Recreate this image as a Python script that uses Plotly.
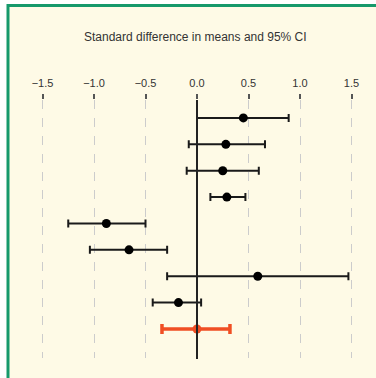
import plotly.graph_objects as go

studies = [1, 2, 3, 4, 5, 6, 7, 8]
effect = [0.45, 0.28, 0.25, 0.29, -0.88, -0.66, 0.59, -0.18]
lower = [0.00, -0.08, -0.10, 0.13, -1.25, -1.04, -0.29, -0.43]
upper = [0.89, 0.66, 0.60, 0.47, -0.50, -0.29, 1.47, 0.04]

summary_row = [9]
summary_effect = [0.00]
summary_lower = [-0.34]
summary_upper = [0.32]

tick_vals = [-1.5, -1.0, -0.5, 0.0, 0.5, 1.0, 1.5]
tick_text = ["\u22121.5", "\u22121.0", "\u22120.5", "0.0", "0.5", "1.0", "1.5"]
title_text = "Standard difference in means and 95% CI"

W, H = 376, 378
ml, mr, mt, mb = 30, 11, 100, 20
pw = W - ml - mr
ph = H - mt - mb

def px_to_paper_x(px):
    return (px - ml) / pw

def px_to_paper_y(py):
    return (H - mb - py) / ph

fig = go.Figure()

fig.add_trace(go.Scatter(
    x=effect, y=studies, mode="markers",
    marker=dict(color="black", size=9, symbol="circle"),
    error_x=dict(type="data", symmetric=False,
                 array=[u - e for u, e in zip(upper, effect)],
                 arrayminus=[e - l for e, l in zip(effect, lower)],
                 color="#1a1a1a", thickness=2, width=4),
    showlegend=False,
))

fig.add_trace(go.Scatter(
    x=summary_effect, y=summary_row, mode="markers",
    marker=dict(color="#f04e23", size=9, symbol="circle"),
    error_x=dict(type="data", symmetric=False,
                 array=[u - e for u, e in zip(summary_upper, summary_effect)],
                 arrayminus=[e - l for e, l in zip(summary_effect, summary_lower)],
                 color="#f04e23", thickness=3.5, width=5),
    showlegend=False,
))

shapes = [
    dict(type="rect", xref="paper", yref="paper",
         x0=px_to_paper_x(8), x1=px_to_paper_x(380),
         y0=px_to_paper_y(382), y1=px_to_paper_y(6),
         fillcolor="#fefae6", line=dict(width=0), layer="below"),
    dict(type="line", xref="paper", yref="paper",
         x0=px_to_paper_x(7), x1=px_to_paper_x(380),
         y0=px_to_paper_y(5.5), y1=px_to_paper_y(5.5),
         line=dict(color="#16996b", width=3), layer="below"),
    dict(type="line", xref="paper", yref="paper",
         x0=px_to_paper_x(8), x1=px_to_paper_x(8),
         y0=px_to_paper_y(382), y1=px_to_paper_y(4),
         line=dict(color="#16996b", width=3), layer="below"),
    dict(type="line", xref="x", yref="paper", x0=0, x1=0,
         y0=px_to_paper_y(359), y1=1,
         line=dict(color="#222222", width=2)),
]

fig.update_layout(
    width=W, height=H,
    margin=dict(l=ml, r=mr, t=mt, b=mb),
    paper_bgcolor="white",
    plot_bgcolor="rgba(0,0,0,0)",
    shapes=shapes,
    font=dict(family="Liberation Sans, Arial, sans-serif", color="#333333"),
    annotations=[dict(
        text=title_text, xref="paper", yref="paper",
        x=px_to_paper_x(195), y=px_to_paper_y(37),
        showarrow=False, xanchor="center", yanchor="middle",
        font=dict(size=12, color="#333333"),
    )],
)

fig.update_xaxes(
    range=[(ml - 197) / 103, (W - mr - 197) / 103],
    side="top", tickvals=tick_vals, ticktext=tick_text,
    ticks="outside", ticklen=5, tickcolor="#555555", tickwidth=1.5,
    ticklabelstandoff=3,
    tickfont=dict(size=11, color="#333333"),
    showgrid=True, gridcolor="#cccccc", griddash="dash", gridwidth=1,
    zeroline=False, showline=False,
)
fig.update_yaxes(
    range=[10.1, 0.32], showticklabels=False, showgrid=False,
    zeroline=False, showline=False, ticks="",
)

fig.write_html("out.html",
               config={"displayModeBar": False},
               post_script="document.body.style.margin='0';document.body.style.overflow='hidden';")
